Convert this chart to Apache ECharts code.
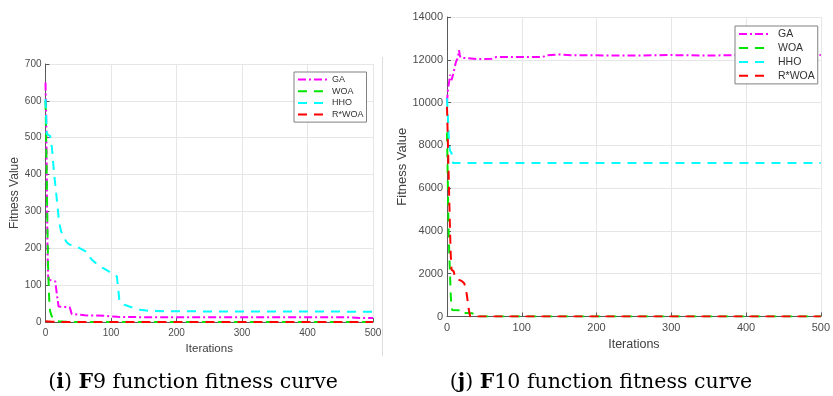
<!DOCTYPE html>
<html>
<head>
<meta charset="utf-8">
<script src="https://cdn.jsdelivr.net/npm/echarts@6/dist/echarts.min.js"></script>
<style>
html,body{margin:0;padding:0;background:#fff;}
#chart{width:833px;height:396px;}
</style>
</head>
<body>
<div id="chart"></div>
<script>
// ---- Data (F9) ----
const seriesNames = ['GA', 'WOA', 'HHO', 'R*WOA'];
const xTicksF9 = [0, 100, 200, 300, 400, 500];
const yTicksF9 = [0, 100, 200, 300, 400, 500, 600, 700];
const xTicksF10 = [0, 100, 200, 300, 400, 500];
const yTicksF10 = [0, 2000, 4000, 6000, 8000, 10000, 12000, 14000];

const f9GA = [[0,650],[1,560],[2,380],[3,200],[4,125],[5,115],[15,110],[17,80],[20,42],[37,40],[40,22],[43,19],[60,18],[90,17],[110,14],[150,13],[300,13],[460,13],[480,11],[500,11]];
const f9WOA = [[0,600],[1,500],[2,380],[3,250],[4,150],[5,90],[6,50],[7,30],[9,18],[12,8],[15,6],[20,2],[30,1],[40,0],[500,0]];
const f9HHO = [[0,605],[1,560],[2,510],[7,505],[10,470],[13,405],[16,355],[18,320],[21,268],[24,245],[27,232],[33,215],[37,210],[47,205],[55,198],[63,190],[70,170],[80,155],[88,146],[96,138],[104,128],[109,124],[111,90],[113,55],[120,47],[128,42],[135,38],[145,33],[160,30],[185,29],[500,28]];
const f9RWOA = [[0,2],[10,1],[20,0],[500,0]];

// ---- Data (F10) ----
const f10GA = [[0,10000],[1,10500],[2,10800],[3,11000],[4,11300],[5,11200],[6,11050],[7,11100],[8,11300],[9,11450],[10,11600],[12,11900],[14,12050],[15,12200],[16,12450],[17,12250],[18,12100],[20,12050],[40,12030],[60,12050],[66,12130],[100,12130],[128,12130],[133,12210],[150,12250],[170,12210],[250,12200],[300,12220],[350,12200],[400,12220],[500,12220]];
const f10WOA = [[0,8600],[1,6500],[2,4200],[3,3000],[4,2000],[5,1000],[6,450],[7,300],[22,280],[23,160],[34,150],[36,60],[39,0],[500,0]];
const f10HHO = [[0,10200],[1,9500],[2,8700],[3,8000],[4,7750],[6,7650],[7,7400],[8,7170],[500,7170]];
const f10RWOA = [[0,9800],[1,8400],[2,6900],[3,5500],[4,4100],[5,2900],[6,2200],[9,2100],[11,1800],[13,1720],[20,1650],[23,1550],[25,1350],[27,900],[29,350],[31,0],[500,0]];

const colors = {GA:'#ff00ff', WOA:'#00e600', HHO:'#00ffff', 'R*WOA':'#ff0000'};
const dashGA = [8, 3, 2, 3];
const dashOther = [9, 7];

function mkSeries(name, data, idx) {
  return {
    name: name, type: 'line', data: data,
    xAxisIndex: idx, yAxisIndex: idx,
    symbol: 'none', showSymbol: false, animation: false,
    color: colors[name],
    lineStyle: {width: 2, color: colors[name], type: name === 'GA' ? dashGA : dashOther}
  };
}

function mkX(idx, ticks, fs, gap) {
  return {
    type: 'value', gridIndex: idx, min: ticks[0], max: ticks[ticks.length-1], interval: ticks[1]-ticks[0],
    name: 'Iterations', nameLocation: 'middle', nameGap: gap,
    nameTextStyle: {color: '#404040', fontSize: fs+1.5, fontFamily: 'Liberation Sans'},
    axisLine: {show: true, onZero: false, lineStyle: {color: '#5a5a5a', width: 1}},
    axisTick: {show: true, inside: true, length: 4, lineStyle: {color: '#5a5a5a'}},
    axisLabel: {color: '#4d4d4d', fontSize: fs, fontFamily: 'Liberation Sans', margin: 6, formatter: v => String(v)},
    splitLine: {show: true, lineStyle: {color: '#e6e6e6', width: 1}}
  };
}
function mkY(idx, ticks, fs, gap) {
  return {
    type: 'value', gridIndex: idx, min: ticks[0], max: ticks[ticks.length-1], interval: ticks[1]-ticks[0],
    name: 'Fitness Value', nameLocation: 'middle', nameGap: gap, nameRotate: 90,
    nameTextStyle: {color: '#404040', fontSize: fs+2, fontFamily: 'Liberation Sans'},
    axisLine: {show: true, onZero: false, lineStyle: {color: '#5a5a5a', width: 1}},
    axisTick: {show: true, inside: true, length: 4, lineStyle: {color: '#5a5a5a'}},
    axisLabel: {color: '#4d4d4d', fontSize: fs, fontFamily: 'Liberation Sans', margin: 4, formatter: v => String(v)},
    splitLine: {show: true, lineStyle: {color: '#e6e6e6', width: 1}}
  };
}

const chart = echarts.init(document.getElementById('chart'), null, {renderer: 'canvas'});
chart.setOption({
  animation: false,
  backgroundColor: '#ffffff',
  grid: [
    {left: 45.5, top: 64, width: 327.5, height: 258},
    {left: 447, top: 17, width: 379, height: 299.5}
  ],
  xAxis: [mkX(0, xTicksF9, 10, 19), mkX(1, xTicksF10, 11, 22)],
  yAxis: [mkY(0, yTicksF9, 10, 23), mkY(1, yTicksF10, 11, 37)],
  legend: [
    {data: seriesNames, orient: 'vertical', left: 294, top: 72, itemWidth: 29, itemHeight: 9, itemGap: 2.7,
     padding: [3, 3, 3, 3], borderColor: '#808080', borderWidth: 1, backgroundColor: '#fff',
     itemStyle: {opacity: 0},
     textStyle: {fontSize: 9, color: '#333', fontFamily: 'Liberation Sans', lineHeight: 9}},
    {data: seriesNames, orient: 'vertical', left: 735, top: 26, itemWidth: 29, itemHeight: 11, itemGap: 2.9,
     padding: [2.6, 3, 2.6, 3], borderColor: '#808080', borderWidth: 1, backgroundColor: '#fff',
     itemStyle: {opacity: 0},
     textStyle: {fontSize: 10.5, color: '#333', fontFamily: 'Liberation Sans', lineHeight: 11, padding: [0,0,0,5]}}
  ],
  series: [
    mkSeries('GA', f9GA, 0), mkSeries('WOA', f9WOA, 0), mkSeries('HHO', f9HHO, 0), mkSeries('R*WOA', f9RWOA, 0),
    mkSeries('GA', f10GA, 1), mkSeries('WOA', f10WOA, 1), mkSeries('HHO', f10HHO, 1), mkSeries('R*WOA', f10RWOA, 1)
  ],
  graphic: [
    {type: 'line', shape: {x1: 382.5, y1: 57, x2: 382.5, y2: 356}, style: {stroke: '#dcdcdc', lineWidth: 1}, silent: true},
    {type: 'text', x: 193, y: 383, style: {
      text: '({b|i}) {b|F}9 function fitness curve', verticalAlign: 'middle', align: 'center',
      font: '20.5px "DejaVu Serif"', fill: '#000',
      rich: {b: {fontWeight: 'bold', fontSize: 20.5, fontFamily: 'DejaVu Serif', fill: '#000'}}
    }},
    {type: 'text', x: 601, y: 383, style: {
      text: '({b|j}) {b|F}10 function fitness curve', verticalAlign: 'middle', align: 'center',
      font: '20.5px "DejaVu Serif"', fill: '#000',
      rich: {b: {fontWeight: 'bold', fontSize: 20.5, fontFamily: 'DejaVu Serif', fill: '#000'}}
    }}
  ]
});
</script>
</body>
</html>
